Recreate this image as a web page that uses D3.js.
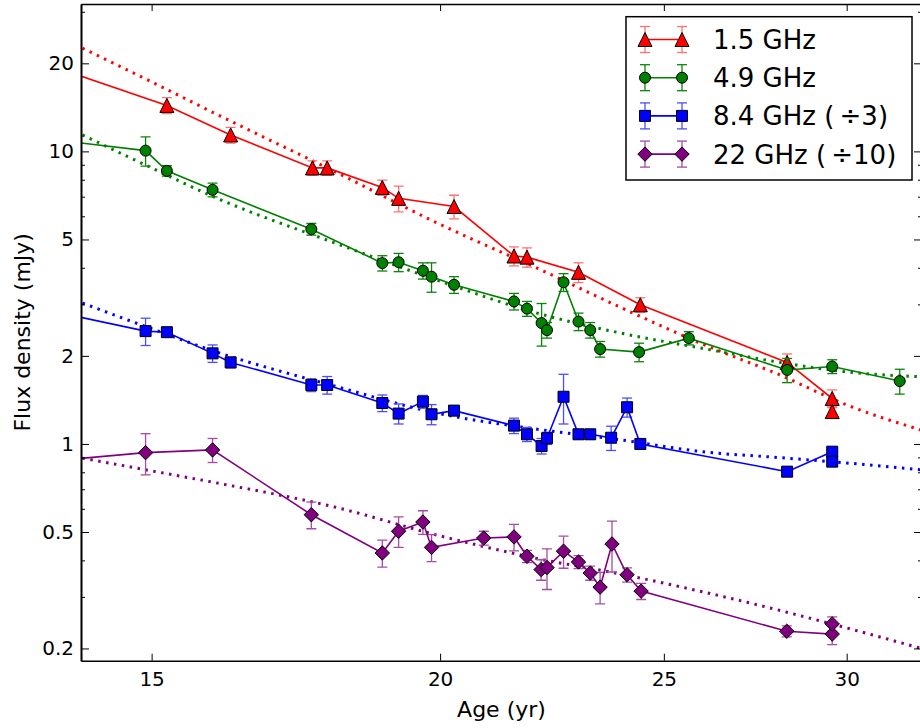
<!DOCTYPE html>
<html>
<head>
<meta charset="utf-8">
<script src="https://cdn.jsdelivr.net/npm/d3@7"></script>
<style>
  body { margin: 0; background: #fff; }
  svg { display: block; font-family: "DejaVu Sans", sans-serif; }
</style>
</head>
<body>
<div id="chartDiv"></div>
<script>
'use strict';

// measured points (8.4 GHz already divided by 3, 22 GHz by 10)
const age15 = [13.0, 15.23, 16.23, 17.61, 17.87, 18.88, 19.19, 20.28, 21.53, 21.81, 22.96, 24.42, 28.27, 29.57, 29.57];
const flux15 = [22.0, 14.36, 11.38, 8.78, 8.78, 7.53, 6.91, 6.48, 4.39, 4.35, 3.86, 2.99, 1.90, 1.43, 1.29];
const err15 = [1.0, 0.9, 0.7, 0.5, 0.5, 0.45, 0.7, 0.6, 0.33, 0.33, 0.3, 0.17, 0.13, 0.1, 0.05];

const age49 = [13.0, 14.91, 15.23, 15.94, 17.59, 18.88, 19.19, 19.66, 19.83, 20.28, 21.53, 21.81, 22.13, 22.25, 22.62, 22.96, 23.23, 23.46, 24.39, 25.63, 28.27, 29.57, 31.63];
const flux49 = [11.42, 10.06, 8.58, 7.39, 5.42, 4.15, 4.18, 3.91, 3.73, 3.50, 3.07, 2.90, 2.59, 2.45, 3.57, 2.62, 2.45, 2.11, 2.06, 2.30, 1.79, 1.84, 1.64];
const err49 = [0.5, 1.15, 0.35, 0.4, 0.25, 0.25, 0.3, 0.25, 0.43, 0.23, 0.2, 0.17, 0.43, 0.15, 0.25, 0.18, 0.15, 0.13, 0.15, 0.12, 0.17, 0.1, 0.16];

const age84 = [13.0, 14.91, 15.23, 15.94, 16.23, 17.59, 17.87, 18.88, 19.19, 19.66, 19.83, 20.28, 21.53, 21.81, 22.13, 22.25, 22.62, 22.96, 23.23, 23.72, 24.10, 24.42, 28.27, 29.57, 29.57];
const flux84 = [3.06, 2.43, 2.41, 2.04, 1.90, 1.59, 1.59, 1.38, 1.27, 1.395, 1.263, 1.30, 1.155, 1.079, 0.984, 1.046, 1.45, 1.079, 1.079, 1.05, 1.335, 1.00, 0.804, 0.941, 0.870];
const err84 = [0.2, 0.26, 0.08, 0.14, 0.08, 0.08, 0.11, 0.09, 0.1, 0.07, 0.1, 0.05, 0.07, 0.06, 0.06, 0.05, 0.28, 0.04, 0.04, 0.1, 0.1, 0.03, 0.03, 0.03, 0.03];

const age22 = [13.0, 14.91, 15.94, 17.59, 18.88, 19.19, 19.66, 19.83, 20.89, 21.53, 21.81, 22.12, 22.25, 22.62, 22.96, 23.23, 23.46, 23.74, 24.10, 24.44, 28.26, 29.57, 29.57];
const flux22 = [0.848, 0.934, 0.954, 0.573, 0.424, 0.503, 0.541, 0.443, 0.477, 0.481, 0.413, 0.372, 0.378, 0.430, 0.395, 0.362, 0.324, 0.455, 0.357, 0.314, 0.229, 0.224, 0.2425];
const err22 = [0.1, 0.15, 0.09, 0.06, 0.045, 0.06, 0.05, 0.047, 0.026, 0.05, 0.02, 0.03, 0.06, 0.054, 0.02, 0.02, 0.04, 0.09, 0.02, 0.02, 0.01, 0.018, 0.014];

// dotted model curves
const fitAge = [14, 15, 16, 18, 20, 22, 24, 26, 28, 30, 32.5];
const fit15 = [22.53, 17.28, 13.41, 8.54, 5.63, 4.01, 2.905, 2.19, 1.735, 1.36, 1.10];
const fit49 = [11.38, 8.78, 6.93, 4.87, 3.60, 2.81, 2.385, 2.12, 1.906, 1.763, 1.695];
const fit84 = [3.03, 2.476, 2.063, 1.578, 1.268, 1.125, 1.030, 0.940, 0.899, 0.861, 0.812];
const fit22 = [0.894, 0.809, 0.736, 0.609, 0.485, 0.407, 0.358, 0.312, 0.271, 0.235, 0.1975];

const seriesLabels = ['1.5 GHz', '4.9 GHz', '8.4 GHz (\u2009\u00f73)', '22 GHz (\u2009\u00f710)'];
const xTickValues = [15, 20, 25, 30];
const yMajorTicks = [0.2, 0.5, 1, 2, 5, 10, 20];
const yMinorTicks = [0.3, 0.4, 0.6, 0.7, 0.8, 0.9, 3, 4, 6, 7, 8, 9, 30];

const series = [
    { label: seriesLabels[0], color: '#ff0000', errColor: '#ff7070', marker: 'triangle', age: age15, flux: flux15, err: err15, fit: fit15 },
    { label: seriesLabels[1], color: '#008000', errColor: '#0a850a', marker: 'circle',   age: age49, flux: flux49, err: err49, fit: fit49 },
    { label: seriesLabels[2], color: '#0000ff', errColor: '#4d4dff', marker: 'square',   age: age84, flux: flux84, err: err84, fit: fit84 },
    { label: seriesLabels[3], color: '#800080', errColor: '#a34da3', marker: 'diamond',  age: age22, flux: flux22, err: err22, fit: fit22 }
];

const WIDTH = 920, HEIGHT = 728;
const plotLeft = 81, plotRight = 922, plotTop = 4, plotBottom = 660.7;

const markerPath = {
    triangle: () => 'M0,-7L7,7L-7,7Z',
    circle: () => 'M-5.5,0A5.5,5.5 0 1,0 5.5,0A5.5,5.5 0 1,0 -5.5,0Z',
    square: () => 'M-5.5,-5.5H5.5V5.5H-5.5Z',
    diamond: () => 'M0,-7.2L7.2,0L0,7.2L-7.2,0Z'
};

const xScale = d3.scaleLog().domain([13.98, 32.34]).range([plotLeft, plotRight]);
const yScale = d3.scaleLog().domain([0.1816, 31.9]).range([plotBottom, plotTop]);

const svg = d3.select('#chartDiv')
    .append('svg')
    .attr('width', WIDTH)
    .attr('height', HEIGHT);

svg.append('defs').append('clipPath')
    .attr('id', 'plotClip')
    .append('rect')
    .attr('x', plotLeft)
    .attr('y', plotTop)
    .attr('width', plotRight - plotLeft)
    .attr('height', plotBottom - plotTop);

const plot = svg.append('g').attr('clip-path', 'url(#plotClip)');

// dotted model curves
const fitLine = d3.line()
    .x(d => xScale(d[0]))
    .y(d => yScale(d[1]))
    .curve(d3.curveMonotoneX);

series.forEach(s => {
    plot.append('path')
        .datum(fitAge.map((a, i) => [a, s.fit[i]]))
        .attr('d', fitLine)
        .attr('fill', 'none')
        .attr('stroke', s.color)
        .attr('stroke-width', 3)
        .attr('stroke-dasharray', '2.5,5.5');
});

const dataLine = d3.line()
    .x(d => xScale(d.age))
    .y(d => yScale(d.flux));

series.forEach(s => {
    const pts = s.age.map((a, i) => ({ age: a, flux: s.flux[i], err: s.err[i] }));
    const g = plot.append('g');

    // error bars
    const bars = g.selectAll('g.err')
        .data(pts)
        .join('g')
        .attr('class', 'err')
        .attr('stroke', s.errColor)
        .attr('stroke-width', 1.3);

    bars.append('line')
        .attr('x1', d => xScale(d.age))
        .attr('x2', d => xScale(d.age))
        .attr('y1', d => yScale(d.flux + d.err))
        .attr('y2', d => yScale(Math.max(d.flux - d.err, 0.01)));

    [1, -1].forEach(sign => {
        bars.append('line')
            .attr('x1', d => xScale(d.age) - 5)
            .attr('x2', d => xScale(d.age) + 5)
            .attr('y1', d => yScale(d.flux + sign * d.err))
            .attr('y2', d => yScale(d.flux + sign * d.err));
    });

    g.append('path')
        .datum(pts)
        .attr('d', dataLine)
        .attr('fill', 'none')
        .attr('stroke', s.color)
        .attr('stroke-width', 1.6);

    g.selectAll('path.marker')
        .data(pts)
        .join('path')
        .attr('class', 'marker')
        .attr('d', markerPath[s.marker]())
        .attr('transform', d => `translate(${xScale(d.age)},${yScale(d.flux)})`)
        .attr('fill', s.color)
        .attr('stroke', '#000')
        .attr('stroke-width', 1);
});

// axes, ticks pointing inwards
const styleAxis = (sel, fontSize) => {
    sel.attr('font-family', '"DejaVu Sans", sans-serif').attr('font-size', fontSize);
    sel.selectAll('.tick line').attr('stroke', '#000').attr('stroke-width', 1);
    sel.selectAll('.tick text').attr('fill', '#000');
    sel.select('.domain').attr('stroke', '#000').attr('stroke-width', 1.6);
};

svg.append('g')
    .attr('transform', `translate(0,${plotBottom})`)
    .call(d3.axisBottom(xScale).tickValues(xTickValues).tickFormat(d3.format('d'))
        .tickSizeInner(-7).tickSizeOuter(0).tickPadding(11))
    .call(sel => styleAxis(sel, 20));

svg.append('g')
    .attr('transform', `translate(0,${plotTop})`)
    .call(d3.axisTop(xScale).tickValues(xTickValues).tickFormat('')
        .tickSizeInner(-7).tickSizeOuter(0))
    .call(sel => styleAxis(sel, 20));

svg.append('g')
    .attr('transform', `translate(${plotLeft},0)`)
    .call(d3.axisLeft(yScale).tickValues(yMajorTicks).tickFormat(d3.format('~g'))
        .tickSizeInner(-8).tickSizeOuter(0).tickPadding(7))
    .call(sel => styleAxis(sel, 20));

svg.append('g')
    .attr('transform', `translate(${plotLeft},0)`)
    .call(d3.axisLeft(yScale).tickValues(yMinorTicks).tickFormat('')
        .tickSizeInner(-4).tickSizeOuter(0))
    .call(sel => styleAxis(sel, 20));

svg.append('g')
    .attr('transform', `translate(${plotRight},0)`)
    .call(d3.axisRight(yScale).tickValues(yMajorTicks).tickFormat('')
        .tickSizeInner(-8).tickSizeOuter(0))
    .call(sel => styleAxis(sel, 20));

svg.append('g')
    .attr('transform', `translate(${plotRight},0)`)
    .call(d3.axisRight(yScale).tickValues(yMinorTicks).tickFormat('')
        .tickSizeInner(-4).tickSizeOuter(0))
    .call(sel => styleAxis(sel, 20));

svg.append('text')
    .attr('x', (plotLeft + plotRight) / 2)
    .attr('y', 717)
    .attr('text-anchor', 'middle')
    .attr('font-size', 22)
    .text('Age (yr)');

svg.append('text')
    .attr('transform', `translate(30,${(plotTop + plotBottom) / 2}) rotate(-90)`)
    .attr('text-anchor', 'middle')
    .attr('font-size', 22)
    .text('Flux density (mJy)');

// legend
const legend = svg.append('g');

legend.append('rect')
    .attr('x', 626)
    .attr('y', 16.7)
    .attr('width', 286)
    .attr('height', 163.3)
    .attr('fill', '#fff')
    .attr('stroke', '#000')
    .attr('stroke-width', 1.5);

series.forEach((s, i) => {
    const cy = 39.5 + i * 38.2;
    const item = legend.append('g').attr('transform', `translate(0,${cy})`);

    [645, 682].forEach(mx => {
        const eb = item.append('g')
            .attr('stroke', s.errColor)
            .attr('stroke-width', 1.3);
        eb.append('line').attr('x1', mx).attr('x2', mx).attr('y1', -13).attr('y2', 13);
        eb.append('line').attr('x1', mx - 5).attr('x2', mx + 5).attr('y1', -13).attr('y2', -13);
        eb.append('line').attr('x1', mx - 5).attr('x2', mx + 5).attr('y1', 13).attr('y2', 13);
    });

    item.append('line')
        .attr('x1', 645).attr('x2', 682)
        .attr('stroke', s.color)
        .attr('stroke-width', 1.6);

    [645, 682].forEach(mx => {
        item.append('path')
            .attr('d', markerPath[s.marker]())
            .attr('transform', `translate(${mx},0)`)
            .attr('fill', s.color)
            .attr('stroke', '#000')
            .attr('stroke-width', 1);
    });

    item.append('text')
        .attr('x', 713)
        .attr('y', 9.5)
        .attr('font-size', 26)
        .text(s.label);
});
</script>
</body>
</html>
